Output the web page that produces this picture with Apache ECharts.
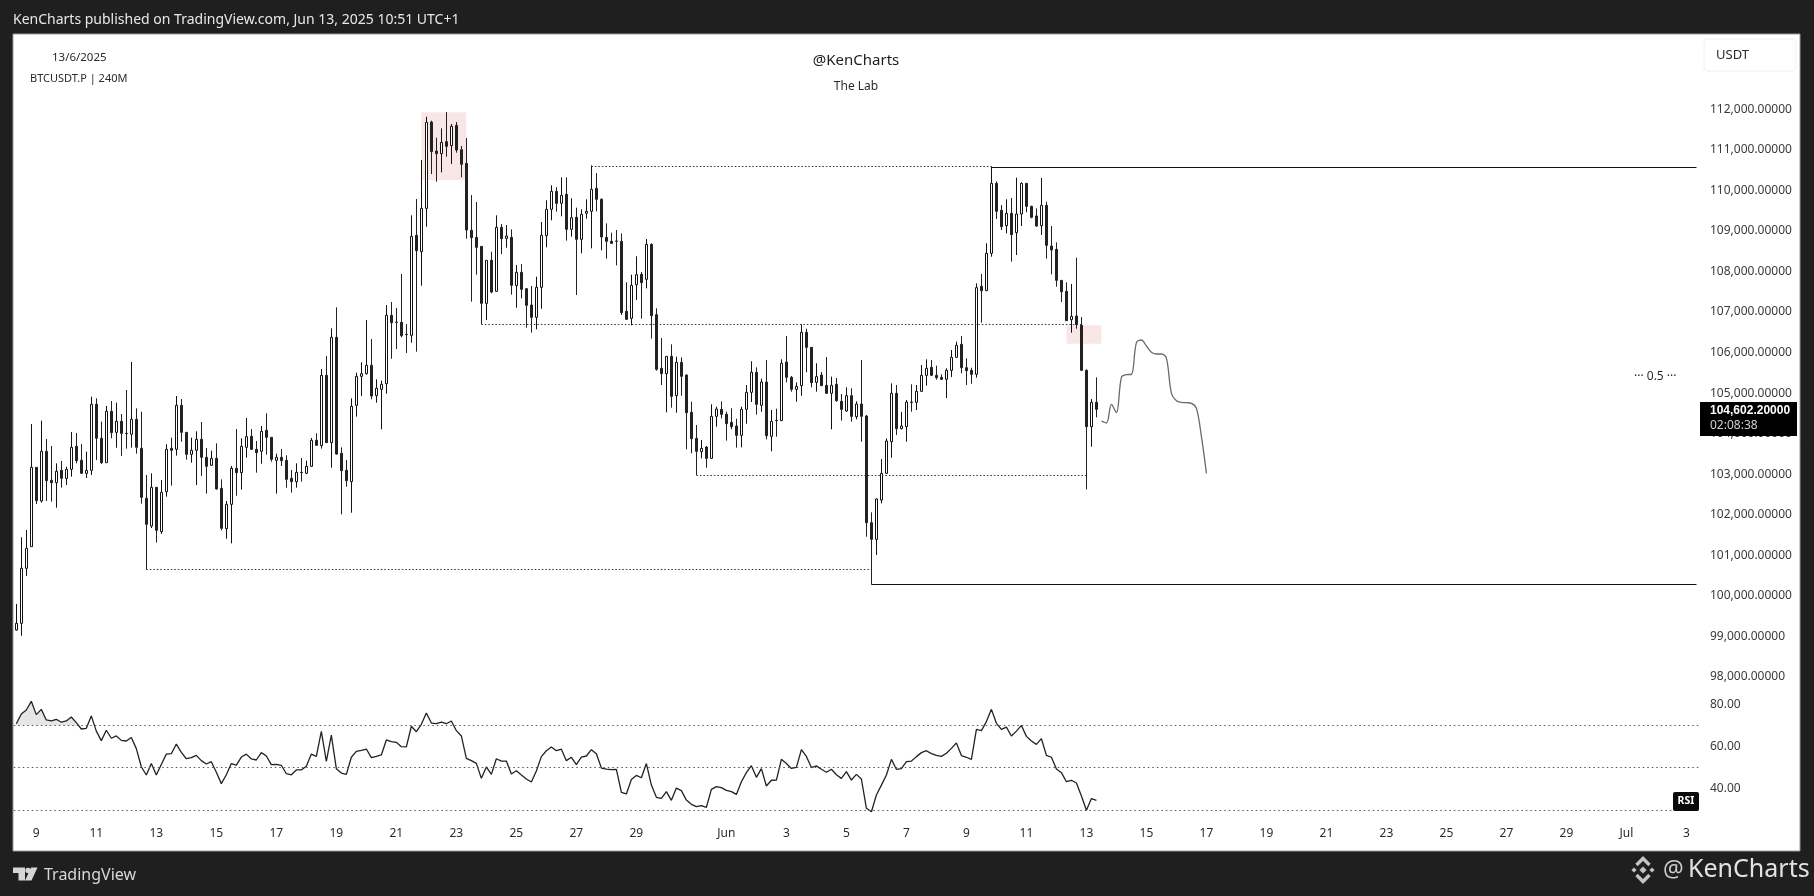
<!DOCTYPE html>
<html><head><meta charset="utf-8">
<style>html,body{margin:0;padding:0;background:#1f1f1f}#c{width:1814px;height:896px}</style>
<script src="https://cdn.jsdelivr.net/npm/echarts@6/dist/echarts.min.js"></script>
</head><body><div id="c"></div>
<script>
const opens=[99160,99324,100681,101215,103171,102341,103566,102851,102793,103097,
102900,103122,103689,103344,103023,103097,104725,103887,103286,104552,
104034,104306,104010,103985,104355,103640,102407,101725,102678,101585,
102571,103640,103615,104700,104034,103492,103591,103862,103418,103221,
103393,102654,101659,102259,103147,103040,103665,103936,103615,103566,
104084,103911,103344,103418,103344,102900,102818,103048,103023,103196,
103837,103706,105440,103780,106377,103517,103097,102818,104700,105415,
105481,105687,104939,105095,105234,106919,106754,106746,106450,106426,
108892,108489,109557,111686,110971,110906,111202,111103,111604,111004,
110667,109015,108842,108620,107215,108275,107511,109089,108818,108842,
107651,107980,107577,107174,106870,107610,108884,109533,109977,109681,
109903,109040,109336,108793,109435,109484,110051,109780,108843,108744,
108752,108744,107018,106845,107675,107930,107807,108670,106936,105612,
105481,105908,104938,105760,105448,104527,103886,103557,103672,103393,
104429,104601,104478,104281,104190,103960,104601,105020,105514,104700,
105275,103935,104330,104322,105768,105390,105094,105185,106500,106130,
105267,105448,105193,104996,105218,104799,104560,104938,104420,104733,
104437,101806,101395,102365,103023,103804,104996,104124,104174,104782,
104774,105045,105440,105637,105440,105390,105341,105563,105884,106204,
105629,105563,105464,107634,107527,108448,110174,109509,109130,109435,
108958,109418,110174,109607,109369,109130,109632,108629,108547,107782,
107511,106812,106903,106673,105563,104174,104774];
const closes=[99324,100681,101174,103171,102349,103566,102843,102793,103073,102900,
103122,103665,103336,103023,103097,104725,103887,103286,104552,104026,
104306,104010,104002,104355,103665,102432,101766,102678,101618,102555,
103615,103591,104700,104034,103492,103591,103862,103418,103196,103393,
102637,101667,102259,103147,103040,103689,103928,103615,103533,104059,
103911,103369,103418,103336,102875,102818,103048,103040,103196,103837,
103714,105440,103780,106377,103500,103089,102843,104676,105415,105481,
105687,104930,105120,105218,106919,106738,106746,106417,106442,108867,
108514,109557,111678,110955,110906,111185,111086,111580,110996,110643,
109023,108834,108596,107215,108275,107494,109089,108809,108875,107659,
107980,107560,107166,106870,107610,108892,109533,109977,109681,109878,
109040,109328,108793,109410,109484,110026,109780,108851,108744,108695,
108744,106985,106821,107659,107922,107725,108670,106911,105588,105481,
105908,104922,105760,105415,104519,103878,103566,103640,103393,104429,
104609,104478,104248,104174,103960,104601,105020,105514,104725,105275,
103952,104305,104322,105736,105390,105094,105168,106500,106130,105259,
105407,105185,104996,105193,104815,104601,104938,104429,104733,104429,
101806,101395,102390,103023,103820,104996,104124,104190,104782,104774,
105045,105440,105612,105440,105382,105341,105563,105884,106179,105629,
105555,105464,107602,107527,108448,110174,109484,109106,109435,108909,
109418,110174,109607,109336,109122,109632,108645,108530,107782,107503,
106788,106895,106689,105563,104174,104774,104602];
const highs=[99801,101445,101626,104240,103171,104322,103870,103697,103270,103328,
103188,104043,104018,103747,103558,104914,104873,104298,104684,104807,
104766,104487,105078,105769,104626,104544,102982,103023,102678,102859,
103739,103903,104930,104856,104034,103903,104059,104289,103648,103582,
103763,102875,102341,103204,104117,103887,104388,104117,103821,104191,
104503,103911,103508,103624,103467,103106,103270,103402,103336,103895,
104010,105596,105917,106598,107116,103665,103352,104873,105506,105761,
106804,106335,105341,105309,107174,107248,107100,107938,106705,109385,
109788,110749,111818,111719,111300,111530,111933,111637,111686,111095,
111292,109886,109714,108620,108275,108489,109385,109171,109147,109040,
108160,108185,107585,107643,107873,109221,109755,110125,110076,110322,
110322,109805,109574,109533,109780,110618,110429,109805,109188,108958,
109024,108941,107733,107922,108374,107988,108802,108695,107092,106360,
105908,106204,105900,105884,105464,104790,104215,103845,103697,104725,
104667,104799,104544,104626,104371,104667,105201,105785,105637,105358,
105818,104585,104617,105834,106410,105423,105267,106697,106590,106130,
105736,105522,105892,105407,105374,104979,105144,105119,104799,105818,
104462,102061,102406,103376,103886,105242,105201,104535,104831,105218,
105201,105695,105834,105818,105678,105464,105612,106064,106270,106410,
105859,105629,107708,107939,108695,110594,110224,109640,109780,109813,
110314,110199,110174,109623,109558,110306,109722,109122,108719,107791,
107733,107692,108341,106878,105588,104856,105390];
const lows=[99144,99020,100492,101215,102267,102300,102341,102325,102177,102670,
102736,102941,103270,103007,102908,102982,103352,103254,103286,103887,
103656,103451,103632,103656,103508,102275,100656,101675,101314,101527,
102448,102719,103459,103804,103360,103286,102736,102958,102522,103204,
102621,101618,101412,101297,102473,102621,103410,103599,103040,103262,
103484,103311,102522,103204,102670,102547,102670,102818,103007,103188,
103706,103632,103780,103163,103484,102012,102695,102053,104421,104930,
105457,104848,104766,104108,104987,105850,106089,106376,105990,106245,
106023,107650,109105,110404,110215,110445,110832,110651,110930,110322,
108809,107256,107922,106697,106804,107461,107502,108431,108587,107429,
107108,107338,106615,106492,106574,107084,108596,109262,109476,109361,
108761,108859,107421,108448,109303,108571,109484,108522,108317,108678,
108152,106928,106804,106673,107297,106837,107585,106344,105555,105201,
104527,104642,104519,104938,103615,103516,102982,103393,103163,103385,
104174,104379,103829,104108,103656,103664,104248,104782,104470,104544,
103861,103566,103927,104314,105267,105037,104790,104938,105514,105144,
105037,105177,104988,104108,104790,104322,104544,104297,104355,103804,
101461,100285,101009,102283,103007,103409,103968,104108,103804,104544,
104585,105037,105185,105423,105333,105325,104881,105399,105867,105489,
105201,105234,105382,106738,107519,108366,109295,109024,108941,108243,
108407,109122,109459,109311,109106,108900,108317,107930,107626,107248,
106788,106492,106590,105555,102628,103681,104404];
const rsi=[70.8,75.4,77.3,81.4,75.1,77.6,72.6,72.1,72.9,71.5,72.1,74.0,71.3,68.3,68.6,74.5,67.3,62.8,67.7,63.9,
65.0,62.9,62.6,64.3,59.0,50.4,46.5,51.9,46.5,51.5,56.4,56.6,61.2,57.2,54.2,54.7,55.8,53.3,51.7,52.8,
47.8,42.4,46.6,51.9,51.2,55.0,56.4,54.1,53.6,57.1,55.5,51.4,51.5,51.1,47.1,46.6,48.9,48.9,50.6,56.4,
55.3,67.2,53.0,65.4,49.5,47.4,46.8,54.9,57.7,58.2,58.8,54.7,55.3,56.0,63.1,62.3,62.0,59.9,59.8,69.6,
67.0,70.5,75.9,71.1,70.8,71.5,70.8,72.1,67.5,65.0,54.4,53.3,52.0,44.9,50.3,46.8,54.2,53.1,53.1,47.0,
48.5,46.5,44.6,43.2,48.4,55.2,58.0,59.8,58.0,58.7,53.3,54.9,51.4,55.0,55.5,58.5,56.6,49.8,49.3,49.0,
49.2,38.3,37.5,44.4,46.3,45.2,51.9,41.7,35.9,35.4,38.6,34.5,40.3,39.1,34.6,32.6,31.5,32.0,31.2,39.7,
41.0,40.5,39.2,38.6,37.3,43.3,47.6,50.9,45.4,49.5,41.3,44.0,44.1,53.9,51.9,49.6,50.1,58.5,55.3,50.0,
50.8,49.2,47.8,49.2,46.6,44.9,48.1,44.1,46.8,44.6,30.7,29.1,37.0,41.7,46.5,53.9,49.2,49.5,52.8,53.1,
55.2,57.1,58.0,56.6,55.8,55.3,56.8,59.1,61.7,55.7,54.9,53.9,68.1,67.5,71.8,77.6,71.0,68.1,69.2,65.0,
67.3,70.0,64.8,62.6,61.0,63.7,55.8,54.9,49.3,47.6,43.3,44.0,42.7,36.5,29.8,35.3,34.5];
// Hand-drawn projection after the last bar, one reading per bar slot from slot 217 on
const projection=[104314,104264,104725,104519,105390,105456,105464,106245,106311,106163,106007,105966,105966,105859,104996,104815,104774,104766,104749,104626,103927,103023];
const priceTicks=[112000,111000,110000,109000,108000,107000,106000,105000,104000,103000,102000,101000,100000,99000,98000];
const rsiTicks=[80,60,40];
const rsiBands=[70,50,30];
const tickDates=['05-09','05-11','05-13','05-15','05-17','05-19','05-21','05-23','05-25','05-27','05-29','06-01','06-03','06-05','06-07','06-09','06-11','06-13','06-15','06-17','06-19','06-21','06-23','06-25','06-27','06-29','07-01','07-03'];
const tickLabels=['9','11','13','15','17','19','21','23','25','27','29','Jun','3','5','7','9','11','13','15','17','19','21','23','25','27','29','Jul','3'];
const slotCount=337;
const slotHours=4;
const firstSlot=Date.UTC(2025,4,8,8);
// [from bar, to bar, price]
const dottedLevels=[[115,195,110594],[93,213,106697],[136,214,102973],[26,171,100656]];
const solidLevels=[[195,336,110570],[171,336,100285]];
const zones=[[81,90,111925,110256],[210,217,106673,106221]];
const lastPrice='104,602.20000';
const countdown='02:08:38';

const categories=[];
for(let i=0;i<slotCount;i++){
  const d=new Date(firstSlot+i*slotHours*3600000);
  const p=n=>String(n).padStart(2,'0');
  categories.push(p(d.getUTCMonth()+1)+'-'+p(d.getUTCDate())+' '+p(d.getUTCHours()));
}
const tickMap={};tickDates.forEach((d,i)=>tickMap[d+' 00']=tickLabels[i]);
const candles=opens.map((o,i)=>[o,closes[i],lows[i],highs[i]]);
const projData=new Array(217).fill(null).concat(projection);
const rsiOver=rsi.map((v,i)=>i<13?Math.max(v,70):null);
const rsiUnder=rsi.map(v=>Math.min(v,30));
const FONT='"Noto Sans"';
const TXT='#2a2a2a';
const levelLine=(a,style)=>a.map(l=>[{xAxis:l[0],yAxis:l[2],lineStyle:style},{xAxis:l[1],yAxis:l[2]}]);
const txt=(x,y,text,size,color,extra)=>({type:'text',x,y,z:50,silent:true,style:Object.assign({text,font:size+'px '+FONT,fill:color,textVerticalAlign:'middle'},extra||{})});
const diamond=(cx,cy,r)=>({type:'polygon',z:50,silent:true,shape:{points:[[cx,cy-r],[cx+r,cy],[cx,cy+r],[cx-r,cy]]},style:{fill:'#c4c4c4'}});
const chevronUp=(cx,cy)=>({type:'polyline',z:50,silent:true,shape:{points:[[cx-6.5,cy+4],[cx,cy-2.5],[cx+6.5,cy+4]]},style:{stroke:'#c4c4c4',lineWidth:3.4,fill:'none'}});
const chevronDown=(cx,cy)=>({type:'polyline',z:50,silent:true,shape:{points:[[cx-6.5,cy-4],[cx,cy+2.5],[cx+6.5,cy-4]]},style:{stroke:'#c4c4c4',lineWidth:3.4,fill:'none'}});

const chart=echarts.init(document.getElementById('c'),null,{renderer:'canvas'});
chart.setOption({
  animation:false,
  backgroundColor:'#1f1f1f',
  textStyle:{fontFamily:FONT},
  grid:[
    {left:13.8,width:1685.2,top:68.75,height:648.85},
    {left:13.8,width:1685.2,top:683.2,height:147.7}
  ],
  xAxis:[
    {type:'category',gridIndex:0,data:categories,show:false},
    {type:'category',gridIndex:1,data:categories,
      axisLine:{show:false},axisTick:{show:false},splitLine:{show:false},
      axisLabel:{margin:-3,fontSize:12,color:TXT,fontFamily:FONT,hideOverlap:false,
        interval:(i,v)=>tickMap[v]!==undefined,
        formatter:v=>tickMap[v]||''}}
  ],
  yAxis:[
    {type:'value',gridIndex:0,position:'right',min:97000,max:113000,interval:1000,
      axisLine:{show:false},axisTick:{show:false},splitLine:{show:false},
      axisLabel:{customValues:priceTicks,margin:11,fontSize:12,color:'#3a3a3a',fontFamily:FONT,
        formatter:v=>v.toLocaleString('en-US',{minimumFractionDigits:5,maximumFractionDigits:5})}},
    {type:'value',gridIndex:1,position:'right',min:20,max:90,interval:10,
      axisLine:{show:false},axisTick:{show:false},splitLine:{show:false},
      axisLabel:{customValues:rsiTicks,margin:11,fontSize:12,color:'#3a3a3a',fontFamily:FONT,
        formatter:v=>v.toFixed(2)}}
  ],
  series:[
    {type:'candlestick',name:'BTCUSDT.P',xAxisIndex:0,yAxisIndex:0,data:candles,barWidth:3,
      itemStyle:{color:'#ffffff',color0:'#222222',borderColor:'#111111',borderColor0:'#222222',borderWidth:1},
      markArea:{silent:true,itemStyle:{color:'#f9e7e8'},
        data:zones.map(z=>[{xAxis:z[0],yAxis:z[2]},{xAxis:z[1],yAxis:z[3]}])},
      markLine:{silent:true,symbol:'none',animation:false,label:{show:false},
        data:levelLine(dottedLevels,{type:[1.5,2],color:'#333',width:1})
          .concat(levelLine(solidLevels,{type:'solid',color:'#111',width:1.2}))}},
    {type:'line',name:'Projection',xAxisIndex:0,yAxisIndex:0,data:projData,showSymbol:false,smooth:0.35,
      lineStyle:{color:'#6a6a6a',width:1.3},connectNulls:false},
    {type:'line',name:'RSI',xAxisIndex:1,yAxisIndex:1,data:rsi,showSymbol:false,
      lineStyle:{color:'#222',width:1.3},
      markLine:{silent:true,symbol:'none',animation:false,label:{show:false},
        lineStyle:{type:[1.5,3],color:'#555',width:1},
        data:rsiBands.map(v=>({yAxis:v}))}},
    {type:'line',name:'RSI overbought',xAxisIndex:1,yAxisIndex:1,data:rsiOver,showSymbol:false,z:1,
      lineStyle:{opacity:0},areaStyle:{origin:70,color:'#dcdcdc',opacity:0.7}},
    {type:'line',name:'RSI oversold',xAxisIndex:1,yAxisIndex:1,data:rsiUnder,showSymbol:false,z:1,
      lineStyle:{opacity:0},areaStyle:{origin:30,color:'#f5c9cc',opacity:0.8}}
  ],
  graphic:{elements:[
    {type:'rect',z:-10,silent:true,shape:{x:13,y:34,width:1787,height:817},style:{fill:'#ffffff',stroke:'#9a9a9a',lineWidth:1}},
    txt(13,20,'KenCharts published on TradingView.com, Jun 13, 2025 10:51 UTC+1',14,'#e8e8e8'),
    txt(52,58,'13/6/2025',11.5,TXT),
    txt(30,79,'BTCUSDT.P | 240M',11,TXT),
    txt(856,61,'@KenCharts',15,'#1c1c1c',{textAlign:'center'}),
    txt(856,87,'The Lab',12,TXT,{textAlign:'center'}),
    {type:'rect',z:49,silent:true,shape:{x:1704,y:39,width:92,height:32,r:4},style:{fill:'#fff',stroke:'#f0f0f0',lineWidth:1}},
    txt(1716,55,'USDT',13,'#2a2a2a'),
    txt(1634,377,'··· 0.5 ···',12,TXT),
    {type:'rect',z:49,silent:true,shape:{x:1700,y:402,width:97,height:34},style:{fill:'#000'}},
    txt(1710,410.5,lastPrice,12,'#ffffff',{fontWeight:'bold',font:'bold 12px '+FONT}),
    txt(1710,426,countdown,12,'#cfcfcf'),
    {type:'rect',z:49,silent:true,shape:{x:1673,y:792,width:26,height:19,r:2},style:{fill:'#0a0a0a'}},
    txt(1686,801.5,'RSI',10.5,'#ffffff',{textAlign:'center',font:'bold 10.5px '+FONT}),
    {type:'polygon',z:50,silent:true,shape:{points:[[13,867.5],[25,867.5],[25,880.5],[18.5,880.5],[18.5,873],[13,873]]},style:{fill:'#d6d6d6'}},
    {type:'circle',z:50,silent:true,shape:{cx:28,cy:870.4,r:2.7},style:{fill:'#d6d6d6'}},
    {type:'polygon',z:50,silent:true,shape:{points:[[31,867.5],[37.5,867.5],[31.5,880.5],[25,880.5]]},style:{fill:'#d6d6d6'}},
    txt(44,875,'TradingView',16,'#d8d8d8'),
    chevronUp(1643,861),diamond(1643,870,3.6),diamond(1634,870,2.6),diamond(1652,870,2.6),chevronDown(1643,879),
    txt(1663,870,'@',23,'#cccccc'),
    txt(1688,870,'KenCharts',25,'#e2e2e2')
  ]}
});
</script></body></html>
